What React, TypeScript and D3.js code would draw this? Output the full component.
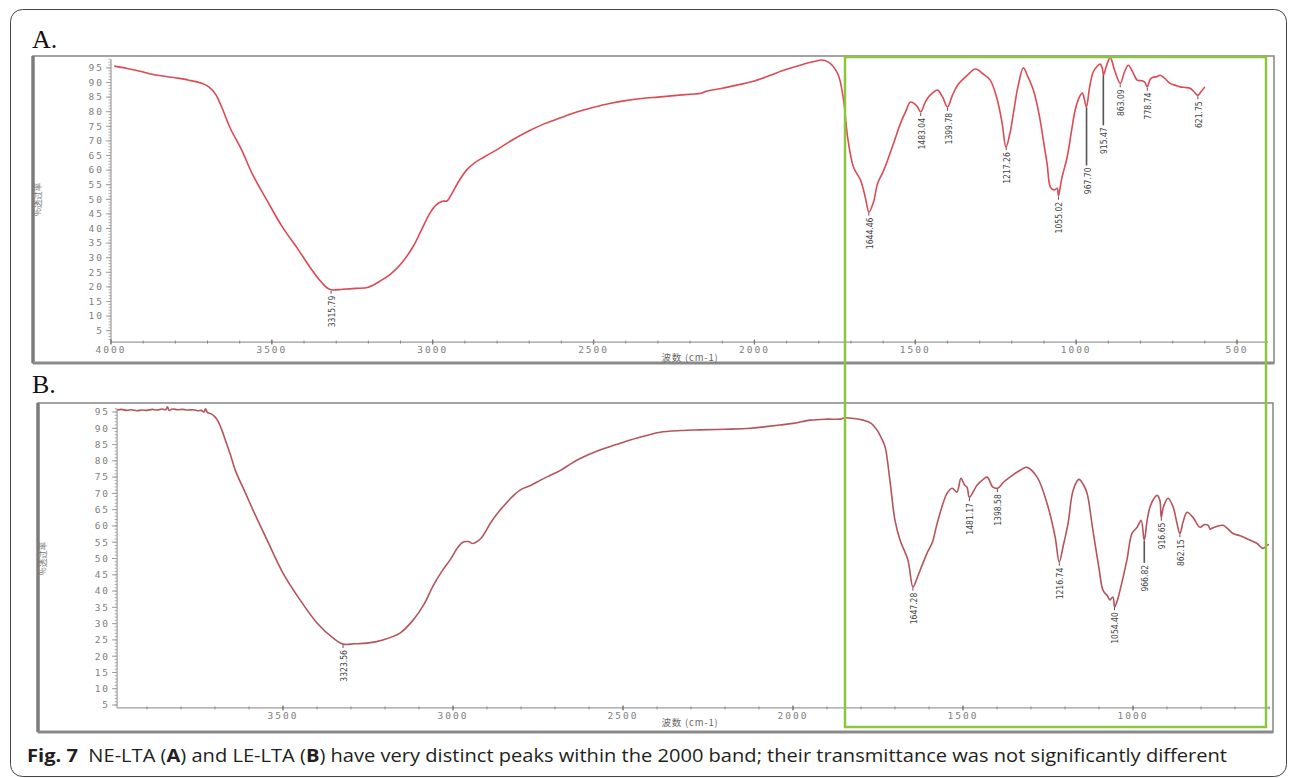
import React, { useEffect, useRef } from "react";
import * as d3 from "d3";

// NE-LTA spectrum (panel A), wavenumber cm-1 / % transmittance
const wavenumbersA = [
  3990, 3950, 3900, 3873, 3800, 3758, 3720, 3696, 3675, 3656, 3630, 3594, 3560, 3516, 3470, 3417,
  3380, 3352, 3330, 3315, 3280, 3240, 3200, 3159, 3130, 3097, 3060, 3035, 3010, 2990, 2970, 2955,
  2940, 2920, 2895, 2870, 2840, 2800, 2750, 2700, 2650, 2600, 2550, 2500, 2450, 2400, 2350, 2300,
  2250, 2200, 2165, 2150, 2100, 2050, 2000, 1950, 1900, 1850, 1810, 1794, 1770, 1741, 1723, 1710,
  1692, 1670, 1655, 1644, 1630, 1617, 1600, 1586, 1565, 1546, 1530, 1515, 1500, 1493, 1483, 1470,
  1462, 1445, 1431, 1415, 1400, 1385, 1369, 1338, 1313, 1290, 1267, 1245, 1230, 1218, 1205, 1195,
  1180, 1164, 1150, 1133, 1115, 1102, 1090, 1080, 1068, 1059, 1055, 1045, 1028, 1015, 1003, 990,
  981, 975, 968, 958, 947, 935, 925, 918, 915, 905, 894, 880, 863, 850, 838, 825, 810, 795, 786,
  779, 770, 761, 750, 739, 725, 708, 690, 677, 660, 646, 635, 622, 612, 600,
];
const transmittanceA = [
  95.6, 94.8, 93.6, 92.8, 91.6, 90.8, 89.8, 88.5, 86.0, 81.6, 74.5, 66.9, 58.5, 49.8, 41.0, 32.6,
  26.5, 22.4, 19.8, 19.0, 19.2, 19.5, 19.9, 22.3, 24.5, 28.1, 34.0, 39.5, 45.0, 48.0, 49.3, 49.5,
  52.0, 56.0, 60.0, 62.5, 64.5, 67.0, 70.5, 73.5, 76.0, 78.0, 80.0, 81.5, 82.8, 83.8, 84.5, 85.0,
  85.5, 86.0, 86.3, 87.0, 88.0, 89.2, 90.5, 92.5, 94.5, 96.2, 97.3, 97.7, 97.0, 93.0, 84.0, 71.0,
  61.0, 56.5, 50.5, 45.6, 49.0, 55.5, 59.5, 63.4, 70.0, 76.0, 80.0, 83.3, 82.5, 81.6, 79.9, 83.0,
  84.6, 86.5, 87.4, 85.0, 81.6, 85.5, 89.0, 92.5, 94.6, 93.0, 90.8, 84.0, 76.0, 67.9, 73.0, 79.5,
  89.0, 95.0, 92.0, 87.4, 79.0, 70.3, 62.0, 54.2, 53.2, 53.8, 51.2, 57.0, 64.4, 73.0, 80.6, 85.0,
  86.4, 84.5, 81.6, 88.5, 93.6, 95.5, 96.3, 94.5, 92.5, 96.0, 98.6, 94.0, 89.7, 93.5, 95.9, 93.8,
  90.8, 90.6, 90.0, 88.5, 91.0, 91.8, 92.0, 92.5, 91.5, 89.7, 89.0, 88.5, 88.3, 88.0, 87.0, 85.6,
  86.8, 88.5,
];

// LE-LTA spectrum (panel B)
const wavenumbersB = [
  3988, 3975, 3960, 3945, 3930, 3915, 3900, 3885, 3870, 3855, 3845, 3840, 3835, 3825, 3810, 3795,
  3780, 3765, 3750, 3740, 3732, 3728, 3722, 3712, 3700, 3690, 3680, 3670, 3655, 3640, 3610, 3580,
  3547, 3500, 3450, 3400, 3353, 3323, 3290, 3253, 3206, 3156, 3118, 3085, 3059, 3030, 3009, 2985,
  2971, 2955, 2941, 2925, 2915, 2900, 2891, 2862, 2830, 2803, 2770, 2744, 2715, 2685, 2655, 2626,
  2568, 2520, 2479, 2430, 2391, 2330, 2274, 2200, 2126, 2080, 2038, 2000, 1950, 1900, 1862, 1847,
  1820, 1794, 1770, 1753, 1740, 1729, 1715, 1700, 1685, 1662, 1647, 1635, 1626, 1606, 1590, 1576,
  1547, 1532, 1518, 1506, 1495, 1488, 1481, 1459, 1444, 1429, 1412, 1398, 1380, 1362, 1332, 1312,
  1282, 1253, 1229, 1217, 1205, 1191, 1176, 1159, 1145, 1135, 1118, 1100, 1088, 1075, 1068, 1059,
  1054, 1045, 1038, 1018, 1003, 988, 976, 967, 958, 950, 938, 929, 921, 917, 910, 897, 882, 870,
  862, 852, 841, 824, 803, 790, 779, 773, 768, 750, 735, 720, 706, 685, 665, 635, 618, 605, 600,
];
const transmittanceB = [
  95.6, 95.8, 95.5, 95.7, 95.4, 95.6, 95.5, 95.8, 95.6, 95.9, 95.7, 96.6, 95.5, 95.9, 95.7, 95.8,
  95.6, 95.7, 95.4, 95.5, 95.0, 96.0, 94.8, 94.5, 93.5, 92.0, 89.5, 86.5, 82.0, 77.0, 70.0, 63.0,
  55.7, 45.5, 37.3, 30.2, 25.6, 23.7, 23.8, 24.0, 25.0, 27.1, 31.0, 36.0, 41.5, 46.5, 49.5, 53.5,
  55.0, 55.2, 54.6, 55.5, 56.5, 59.0, 60.7, 64.8, 68.5, 71.0, 72.5, 74.0, 75.5, 77.0, 79.0, 80.7,
  83.3, 85.0, 86.4, 87.8, 88.8, 89.3, 89.5, 89.7, 90.0, 90.5, 91.0, 91.5, 92.5, 92.8, 92.8, 93.2,
  93.0, 92.5, 91.5, 89.5, 87.0, 84.2, 74.0, 61.7, 55.6, 49.5, 41.2, 44.0, 46.4, 51.6, 55.0, 60.8,
  70.0, 71.6, 70.4, 74.6, 72.5, 71.9, 68.8, 72.5, 74.0, 75.0, 71.9, 71.6, 73.5, 75.0, 77.1, 78.0,
  75.0, 67.0, 56.6, 48.9, 54.0, 60.8, 71.0, 74.3, 72.5, 70.0, 58.7, 47.0, 40.2, 38.5, 37.3, 38.2,
  35.1, 37.5, 40.3, 49.5, 57.7, 59.6, 61.7, 55.6, 62.0, 65.8, 68.5, 69.4, 67.9, 62.7, 66.0, 68.5,
  65.8, 60.5, 57.7, 61.5, 64.2, 62.7, 59.6, 60.4, 60.2, 59.0, 59.3, 60.0, 60.2, 59.0, 57.7, 57.0,
  56.1, 54.6, 53.1, 54.1, 54.3,
];

const peaksA = ["3315.79", "1644.46", "1483.04", "1399.78", "1217.26", "1055.02", "967.70", "915.47", "863.09", "778.74", "621.75"];
const peaksB = ["3323.56", "1647.28", "1481.17", "1398.58", "1216.74", "1054.40", "966.82", "916.65", "862.15"];

const yTickLabels = [5, 10, 15, 20, 25, 30, 35, 40, 45, 50, 55, 60, 65, 70, 75, 80, 85, 90, 95];
const xTickLabelsA = [4000, 3500, 3000, 2500, 2000, 1500, 1000, 500];
const xTickLabelsB = [3500, 3000, 2500, 2000, 1500, 1000];

const yTitle = "%透过率";
const xTitle = "波数 (cm-1)";

// peaks that get a long leader line (px)
const longLeaders: any = { "967.70": 58, "915.47": 50, "966.82": 22 };

const WIDTH = 1293;
const HEIGHT = 778;

function valueAt(wn: number[], tr: number[], w: number) {
  for (let i = 0; i < wn.length - 1; i++) {
    if (wn[i] >= w && wn[i + 1] <= w) {
      const t = (wn[i] - w) / (wn[i] - wn[i + 1]);
      return tr[i] + t * (tr[i + 1] - tr[i]);
    }
  }
  return tr[tr.length - 1];
}

function drawPanel(svg: any, p: any) {
  const x = d3.scaleLinear().domain(p.xDomain).range(p.xRange);
  const y = d3.scaleLinear().domain([0, 95]).range(p.yRange);
  const [fx, fy, fw, fh] = p.frame;
  const g = svg.append("g");
  const axisColor = "#9c9c9c";
  const labelFont = "DejaVu Sans Mono, monospace";

  // panel frame, heavier on the left and bottom
  g.append("rect").attr("x", fx).attr("y", fy).attr("width", fw).attr("height", fh)
    .attr("fill", "none").attr("stroke", "#8c8c8c").attr("stroke-width", 1.6);
  g.append("line").attr("x1", fx).attr("x2", fx).attr("y1", fy).attr("y2", fy + fh)
    .attr("stroke", "#7c7c7c").attr("stroke-width", 3.5);
  g.append("line").attr("x1", fx).attr("x2", fx + fw).attr("y1", fy + fh).attr("y2", fy + fh)
    .attr("stroke", "#8a8a8a").attr("stroke-width", 3);

  svg.append("text").attr("x", p.letterPos[0]).attr("y", p.letterPos[1])
    .attr("font-family", "Liberation Serif, serif").attr("font-size", 26).attr("fill", "#111")
    .text(p.letter);

  const ax = x(p.axisStart);
  const ay = y(p.axisFloor);
  const aTop = y(p.axisTop);

  // y axis with a dense minor scale
  g.append("line").attr("x1", ax).attr("x2", ax).attr("y1", ay).attr("y2", aTop)
    .attr("stroke", axisColor).attr("stroke-width", 1.2);
  g.selectAll("line.ymin").data(d3.range(Math.ceil(p.axisFloor), Math.floor(p.axisTop) + 1))
    .enter().append("line").attr("class", "ymin")
    .attr("x1", ax - 2.5).attr("x2", ax).attr("y1", (d: number) => y(d)).attr("y2", (d: number) => y(d))
    .attr("stroke", axisColor).attr("stroke-width", 0.8);
  g.selectAll("line.ymaj").data(yTickLabels).enter().append("line").attr("class", "ymaj")
    .attr("x1", ax - 5).attr("x2", ax).attr("y1", (d: number) => y(d)).attr("y2", (d: number) => y(d))
    .attr("stroke", axisColor).attr("stroke-width", 1);
  g.selectAll("text.ylab").data(yTickLabels).enter().append("text").attr("class", "ylab")
    .attr("x", ax - 7).attr("y", (d: number) => y(d)).attr("dy", "0.35em")
    .attr("text-anchor", "end").attr("font-family", labelFont).attr("font-size", 9.5)
    .attr("letter-spacing", 2).attr("fill", "#808080").text((d: number) => d);

  g.append("text").attr("transform", `translate(${fx + 8},${y(50)}) rotate(-90)`)
    .attr("text-anchor", "middle").attr("font-family", "Noto Sans CJK SC, sans-serif")
    .attr("font-size", 8.5).attr("fill", "#777").text(yTitle);

  // x axis, minor ticks every 100 cm-1
  const xEndW = x.invert(p.axisEndX);
  g.append("line").attr("x1", ax).attr("x2", p.axisEndX).attr("y1", ay).attr("y2", ay)
    .attr("stroke", axisColor).attr("stroke-width", 1.2);
  const minorX = d3.range(Math.floor(p.axisStart / 100) * 100, xEndW, -100);
  g.selectAll("line.xmin").data(minorX).enter().append("line").attr("class", "xmin")
    .attr("x1", (d: number) => x(d)).attr("x2", (d: number) => x(d)).attr("y1", ay - 1.5).attr("y2", ay + 1.5)
    .attr("stroke", "#888").attr("stroke-width", 1);
  g.selectAll("line.xmaj").data(p.xTicks).enter().append("line").attr("class", "xmaj")
    .attr("x1", (d: number) => x(d)).attr("x2", (d: number) => x(d)).attr("y1", ay - 2.5).attr("y2", ay + 2.5)
    .attr("stroke", "#777").attr("stroke-width", 1.3);
  g.selectAll("text.xlab").data(p.xTicks).enter().append("text").attr("class", "xlab")
    .attr("x", (d: number) => x(d)).attr("y", ay + 11).attr("text-anchor", "middle")
    .attr("font-family", labelFont).attr("font-size", 9.5).attr("letter-spacing", 2)
    .attr("fill", "#808080").text((d: number) => d);
  g.append("text").attr("x", 690).attr("y", p.xTitleY).attr("text-anchor", "middle")
    .attr("font-family", "Noto Sans CJK SC, sans-serif").attr("font-size", 9.5).attr("fill", "#666")
    .attr("letter-spacing", 0.8).text(xTitle);

  // spectrum
  const line = d3.line<number>()
    .x((d, i) => x(p.wn[i]))
    .y((d) => y(d))
    .curve(d3.curveCatmullRom.alpha(0.5));
  g.append("path").attr("d", line(p.tr)).attr("fill", "none")
    .attr("stroke", p.color).attr("stroke-width", 1.6).attr("stroke-linejoin", "round");

  // peak labels
  p.peaks.forEach((label: string) => {
    const w = +label;
    const px = x(w);
    const py = y(valueAt(p.wn, p.tr, w));
    const drop = longLeaders[label] || 3;
    g.append("line").attr("x1", px).attr("x2", px).attr("y1", py + 1).attr("y2", py + 1 + drop)
      .attr("stroke", "#555").attr("stroke-width", longLeaders[label] ? 1.6 : 1);
    g.append("text").attr("transform", `translate(${px + 1},${py + 3 + drop}) rotate(-90)`)
      .attr("dy", "0.35em").attr("text-anchor", "end")
      .attr("font-family", "DejaVu Sans Condensed, sans-serif").attr("font-size", 8.5)
      .attr("fill", "#444").text(label);
  });
}

export default function App() {
  const ref = useRef<SVGSVGElement>(null);

  useEffect(() => {
    const svg = d3.select(ref.current);
    svg.selectAll("*").remove();

    svg.append("rect").attr("width", WIDTH).attr("height", HEIGHT).attr("fill", "#fff");
    svg.append("rect").attr("x", 10.5).attr("y", 9.5).attr("width", 1276).attr("height", 767)
      .attr("rx", 12).attr("fill", "none").attr("stroke", "#444").attr("stroke-width", 1);

    drawPanel(svg, {
      letter: "A.", letterPos: [32, 48],
      frame: [33, 56, 1241, 307],
      xDomain: [4000, 500], xRange: [111, 1237],
      yRange: [345.3, 67.9],
      axisStart: 4000, axisEndX: 1268, axisFloor: 1.1, axisTop: 98,
      xTicks: xTickLabelsA, xTitleY: 361,
      wn: wavenumbersA, tr: transmittanceA, peaks: peaksA, color: "#dc4a55",
    });

    drawPanel(svg, {
      letter: "B.", letterPos: [32, 393],
      frame: [38, 403, 1235, 329],
      xDomain: [3500, 1000], xRange: [283, 1133],
      yRange: [721.3, 412],
      axisStart: 3988, axisEndX: 1270, axisFloor: 4.1, axisTop: 96,
      xTicks: xTickLabelsB, xTitleY: 726,
      wn: wavenumbersB, tr: transmittanceB, peaks: peaksB, color: "#b6545b",
    });

    // green highlight box over the fingerprint region
    svg.append("rect").attr("x", 845).attr("y", 57).attr("width", 421).attr("height", 670)
      .attr("fill", "none").attr("stroke", "#8cc63f").attr("stroke-width", 2.5);

    // caption
    const cap = svg.append("text").attr("x", 27).attr("y", 762)
      .attr("font-family", "Open Sans, sans-serif").attr("font-size", 18).attr("fill", "#231f20")
      .attr("textLength", 1200).attr("lengthAdjust", "spacingAndGlyphs");
    cap.append("tspan").attr("font-weight", "bold").text("Fig. 7");
    cap.append("tspan").text("\u00a0\u00a0NE-LTA (");
    cap.append("tspan").attr("font-weight", "bold").text("A");
    cap.append("tspan").text(") and LE-LTA (");
    cap.append("tspan").attr("font-weight", "bold").text("B");
    cap.append("tspan").text(") have very distinct peaks within the 2000 band; their transmittance was not significantly different");
  }, []);

  return (
    <svg ref={ref} width={WIDTH} height={HEIGHT}
      style={{ position: "absolute", left: 0, top: 0, display: "block" }} />
  );
}
